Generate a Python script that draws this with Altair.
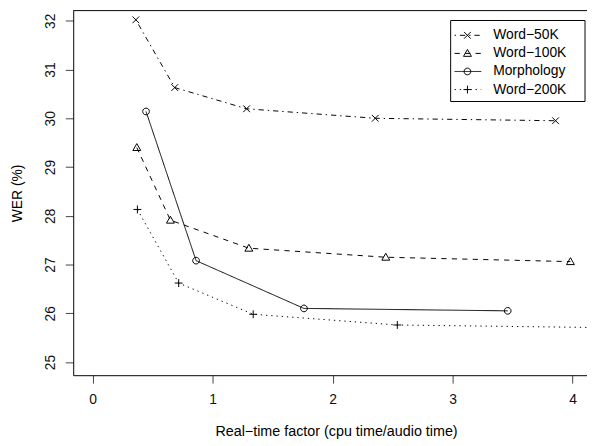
import altair as alt
import pandas as pd

# ---- data ----
series = ["Word−50K", "Word−100K", "Morphology", "Word−200K"]

rtf_w50 = [0.36, 0.684, 1.283, 2.355, 3.858]
wer_w50 = [32.02, 30.63, 30.195, 30.00, 29.95]

rtf_w100 = [0.368, 0.648, 1.302, 2.443, 3.982]
wer_w100 = [29.40, 27.91, 27.335, 27.15, 27.06]

rtf_morph = [0.445, 0.862, 1.761, 3.459]
wer_morph = [30.14, 27.08, 26.10, 26.05]

rtf_w200 = [0.373, 0.717, 1.338, 2.539, 4.45]
wer_w200 = [28.13, 26.62, 25.98, 25.76, 25.70]

x_ticks = [0, 1, 2, 3, 4]
y_ticks = [25, 26, 27, 28, 29, 30, 31, 32]

rows = []
for name, xs, ys in zip(series,
                        [rtf_w50, rtf_w100, rtf_morph, rtf_w200],
                        [wer_w50, wer_w100, wer_morph, wer_w200]):
    for i, (a, b) in enumerate(zip(xs, ys)):
        rows.append({"series": name, "rtf": a, "wer": b, "order": i})
df = pd.DataFrame(rows)
leg_df = pd.DataFrame({"series": series, "row": list(range(len(series)))})

# ---- styles ----
FONT = "Liberation Sans"
W, H = 520, 369
dashes = [[1.4, 4, 5.3, 4], [5.3, 5.3], [1, 0], [1.3, 4]]
shapes = [
    "M-0.85,-0.85L0.85,0.85M-0.85,0.85L0.85,-0.85",
    "M0,-1L1,0.75L-1,0.75Z",
    "M-0.85,0A0.85,0.85 0 1,1 0.85,0A0.85,0.85 0 1,1 -0.85,0Z",
    "M-1,0L1,0M0,-1L0,1",
]

xscale = alt.Scale(domain=[-0.162, 4.12], nice=False, zero=False)
yscale = alt.Scale(domain=[24.73, 32.209], nice=False, zero=False)
dash_enc = alt.StrokeDash("series:N", scale=alt.Scale(domain=series, range=dashes), legend=None)
shape_enc = alt.Shape("series:N", scale=alt.Scale(domain=series, range=shapes), legend=None)

x_enc = alt.X("rtf:Q", scale=xscale,
              axis=alt.Axis(values=x_ticks, format="d",
                            title="Real−time factor (cpu time/audio time)",
                            titleX=266, titleAlign="center", titleFontSize=14.5,
                            labelPadding=10, titlePadding=18, grid=False))
y_enc = alt.Y("wer:Q", scale=yscale,
              axis=alt.Axis(values=y_ticks, format="d", title="WER (%)", labelAngle=-90,
                            labelAlign="center", labelBaseline="bottom",
                            labelPadding=8, titlePadding=19, grid=False))

lines = alt.Chart(df).mark_line(color="black", strokeWidth=1, clip=True).encode(
    x=x_enc, y=y_enc, strokeDash=dash_enc, detail="series:N", order="order:Q")

points = alt.Chart(df).mark_point(filled=False, color="black", strokeWidth=1,
                                  size=64, opacity=1, clip=True).encode(
    x="rtf:Q", y="wer:Q", shape=shape_enc)

top_border = alt.Chart(pd.DataFrame({"a": [0]})).mark_rule(color="black", strokeWidth=1).encode(
    x=alt.value(0), x2=alt.value(W), y=alt.value(0))

# ---- legend (drawn by hand, R style) ----
leg_box = alt.Chart(pd.DataFrame({"a": [0]})).mark_rect(
    fill="white", stroke="black", strokeWidth=1).encode(
    x=alt.value(382), x2=alt.value(518), y=alt.value(10), y2=alt.value(92))

leg_base = alt.Chart(leg_df).transform_calculate(ly="25 + datum.row * 18.3")
leg_lines = leg_base.mark_rule(color="black", strokeWidth=1).encode(
    x=alt.value(386), x2=alt.value(413),
    y=alt.Y("ly:Q", scale=None, axis=None), strokeDash=dash_enc)
leg_points = leg_base.mark_point(filled=False, color="black", strokeWidth=1,
                                 size=64, opacity=1).encode(
    x=alt.value(399), y=alt.Y("ly:Q", scale=None, axis=None), shape=shape_enc)
leg_text = leg_base.mark_text(align="left", baseline="middle", font=FONT,
                              fontSize=14, color="black").encode(
    x=alt.value(425), y=alt.Y("ly:Q", scale=None, axis=None), text="series:N")

chart = alt.layer(lines, points, top_border, leg_box, leg_lines, leg_points, leg_text).properties(
    width=W, height=H,
    autosize=alt.AutoSizeParams(type="none"),
    padding={"left": 66, "top": 0, "right": 0, "bottom": 68},
).configure_view(stroke=None).configure_axis(
    domainColor="black", domainWidth=1, tickColor="#444", tickSize=8, tickWidth=1,
    labelFont=FONT, labelFontSize=14, labelColor="#111",
    titleFont=FONT, titleFontSize=14, titleFontWeight="normal", titleColor="black",
)

chart.save("out.html", embed_options={"renderer": "svg", "actions": False})
